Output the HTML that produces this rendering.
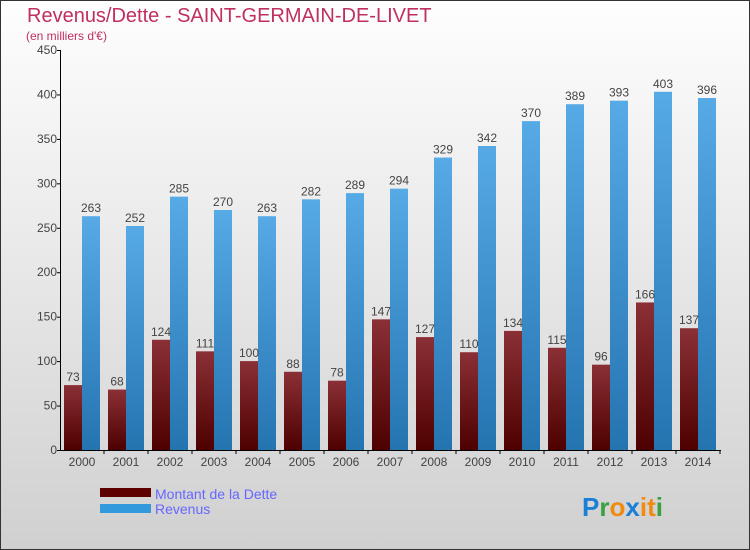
<!DOCTYPE html>
<html><head><meta charset="utf-8"><style>
body{margin:0}
#c{width:750px;height:550px;position:relative;overflow:hidden;box-sizing:border-box;border:1px solid #333;background:linear-gradient(#fefefe,#d0d0d0);font-family:"Liberation Sans",sans-serif}
</style></head><body>
<div id="c">
<svg width="750" height="550" style="position:absolute;left:-1px;top:-1px" id="svg">
<defs>
<linearGradient id="gd" x1="0" y1="0" x2="0" y2="1"><stop offset="0" stop-color="#8a3036"/><stop offset="1" stop-color="#4e0000"/></linearGradient>
<linearGradient id="gr" x1="0" y1="0" x2="0" y2="1"><stop offset="0" stop-color="#56aae6"/><stop offset="1" stop-color="#2474b0"/></linearGradient>
</defs>
<text x="27" y="22" font-size="20" fill="#c0305e">Revenus/Dette - SAINT-GERMAIN-DE-LIVET</text>
<text x="26" y="40" font-size="12" fill="#c0305e">(en milliers d'€)</text>
<g id="bars"></g>
<g id="axes"></g>
<rect x="100" y="488" width="51" height="9" fill="#5e0000"/>
<rect x="100" y="504" width="51" height="9" fill="#3399dd"/>
<text x="155" y="499" font-size="14" fill="#6666ff">Montant de la Dette</text>
<text x="155" y="514" font-size="14" fill="#6666ff">Revenus</text>
<text x="582" y="516" font-size="26" font-weight="bold"><tspan fill="#1a7fd6">P</tspan><tspan fill="#3aa040">r</tspan><tspan fill="#f08a10">o</tspan><tspan fill="#1a7fd6">x</tspan><tspan fill="#f08a10">i</tspan><tspan fill="#f08a10">t</tspan><tspan fill="#3aa040">i</tspan></text>
</svg>
</div>
<script>
const years=["2000","2001","2002","2003","2004","2005","2006","2007","2008","2009","2010","2011","2012","2013","2014"];
const dette=[73,68,124,111,100,88,78,147,127,110,134,115,96,166,137];
const revenus=[263,252,285,270,263,282,289,294,329,342,370,389,393,403,396];
const yTicks=[0,50,100,150,200,250,300,350,400,450];
const NS="http://www.w3.org/2000/svg";
const y0=450,yTop=50,yMax=450;
function yS(v){return y0-(v/yMax)*(y0-yTop);}
function xS(i){return 64+44*i;}
const bars=document.getElementById('bars'),axes=document.getElementById('axes');
function mk(tag,attrs,parent,txt){const e=document.createElementNS(NS,tag);for(const k in attrs)e.setAttribute(k,attrs[k]);if(txt!==undefined)e.textContent=txt;parent.appendChild(e);return e;}
years.forEach((yr,i)=>{
  const x=xS(i);
  const d=mk('rect',{x:x,y:yS(dette[i]),width:18,height:y0-yS(dette[i]),fill:'url(#gd)'},bars);
  
  
  const r=mk('rect',{x:x+18,y:yS(revenus[i]),width:18,height:y0-yS(revenus[i]),fill:'url(#gr)'},bars);
  
  
  const t1=mk('text',{x:x+9,y:yS(dette[i])-4,'font-size':12,fill:'#444','text-anchor':'middle'},bars,dette[i]);
  
  
  const t2=mk('text',{x:x+27,y:yS(revenus[i])-4,'font-size':12,fill:'#444','text-anchor':'middle'},bars,revenus[i]);
  
  
  const xl=mk('text',{x:x+18,y:466,'font-size':12,fill:'#444','text-anchor':'middle'},axes,yr);
  
  
  const xt=mk('line',{x1:x+40,x2:x+40,y1:y0,y2:y0+4,stroke:'#000'},axes);
  
  
});
const ya=mk('line',{x1:60.5,x2:60.5,y1:yTop,y2:y0,stroke:'#000'},axes);


const xa=mk('line',{x1:60,x2:721,y1:y0+0.5,y2:y0+0.5,stroke:'#000'},axes);


yTicks.forEach(v=>{
  const t=mk('line',{x1:57,x2:61,y1:yS(v)+0.5,y2:yS(v)+0.5,stroke:'#000'},axes);
  
  
  const l=mk('text',{x:57,y:yS(v)+4,'font-size':12,fill:'#444','text-anchor':'end'},axes,v);
  
  
});
</script>
</body></html>
